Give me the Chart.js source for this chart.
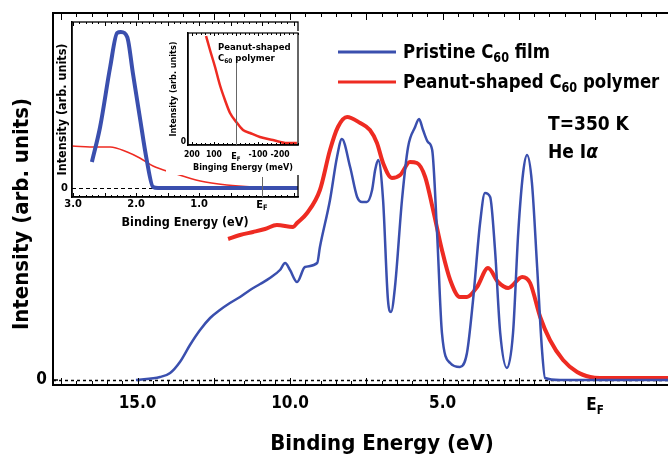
<!DOCTYPE html>
<html>
<head>
<meta charset="utf-8">
<script src="https://cdn.jsdelivr.net/npm/chart.js@4.4.1/dist/chart.umd.min.js"></script>
<style>
  body { margin: 0; background: #fff; }
  #wrap { position: relative; width: 668px; height: 458px; }
  canvas { position: absolute; }
</style>
</head>
<body>
<div id="wrap">
  <canvas id="main" width="668" height="458" style="left:0;top:0"></canvas>
  <canvas id="inset" width="248" height="213" style="left:54px;top:21px"></canvas>
  <canvas id="nested" width="133" height="144" style="left:166px;top:31px"></canvas>
</div>
<script>
// Data (binding energy in eV, intensity in arb. units)
const pristineEnergy = [15.05, 14.26, 13.93, 13.61, 13.28, 12.95, 12.62, 12.30, 11.97, 11.64, 11.31, 10.98, 10.66, 10.33, 10.16, 10.00, 9.77, 9.51, 9.11, 9.02, 8.69, 8.46, 8.30, 8.03, 7.80, 7.64, 7.48, 7.31, 7.21, 7.11, 6.95, 6.79, 6.69, 6.56, 6.33, 6.13, 5.90, 5.77, 5.64, 5.48, 5.34, 5.18, 5.02, 4.75, 4.43, 4.20, 4.00, 3.77, 3.61, 3.44, 3.28, 3.11, 2.89, 2.69, 2.52, 2.36, 2.23, 2.07, 1.90, 1.74, 1.64, 1.15, 0.0, -2.39];
const pristineIntensity = [0, 3, 7, 18, 35, 50, 62, 70, 77, 83, 90, 96, 102, 110, 117, 110, 98, 113, 117, 133, 180, 223, 241, 213, 183, 178, 178, 190, 210, 220, 180, 80, 68, 93, 180, 233, 253, 261, 250, 238, 230, 147, 47, 17, 13, 27, 80, 157, 187, 183, 130, 47, 12, 47, 147, 207, 225, 197, 113, 30, 2, 0, 0, 0];

const polymerEnergy = [12.03, 11.64, 11.21, 10.82, 10.43, 9.90, 9.77, 9.44, 9.02, 8.69, 8.43, 8.13, 7.70, 7.38, 7.15, 6.95, 6.66, 6.39, 6.07, 5.84, 5.57, 5.31, 5.02, 4.75, 4.43, 4.20, 3.87, 3.51, 3.18, 2.85, 2.39, 2.13, 1.80, 1.48, 1.05, 0.59, 0.16, -0.16, -2.39];
const polymerIntensity = [141, 145, 148, 151, 155, 153, 157, 167, 190, 230, 253, 263, 257, 250, 237, 217, 202, 205, 218, 217, 203, 170, 130, 100, 83, 83, 93, 112, 98, 92, 103, 97, 63, 40, 20, 8, 3, 2, 2];

// Inset: region near the Fermi level (eV)
const insetPristineEnergy = [2.70, 2.57, 2.41, 2.30, 2.24, 2.14, 2.05, 1.94, 1.83, 1.73, 1.65, -0.57];
const insetPristineIntensity = [26, 61, 121, 155, 156, 151, 115, 71, 28, 1, 0, 0];
const insetPolymerEnergy = [3.02, 2.62, 2.41, 2.14, 1.94, 1.73, 1.41, 0.98, 0.56, 0.14, -0.49, -0.57];
const insetPolymerIntensity = [42, 41, 41, 36, 30, 22, 15, 7, 3, 1, 0, 0];

// Nested inset (meV)
const nestedEnergy = [136, 118, 95, 73, 50, 27, -5, -32, -64, -109, -168, -232, -277];
const nestedIntensity = [106, 92, 75, 57, 42, 29, 19, 12, 9, 5, 2, -1, -1];

// Tick labels
const mainTickValues = [15, 10, 5, 0];
const mainTickLabels = ["15.0", "10.0", "5.0", "EF"];
const insetTickValues = [3, 2, 1, 0];
const insetTickLabels = ["3.0", "2.0", "1.0", "EF"];
const nestedTickValues = [200, 100, 0, -100, -200];
const nestedTickLabels = ["200", "100", "EF", "-100", "-200"];

const BLUE = "#3a4fae";
const RED = "#ee2b22";
const FONT = '"DejaVu Sans Condensed", "DejaVu Sans", sans-serif';

Chart.defaults.font.family = FONT;
Chart.defaults.font.weight = "bold";
Chart.defaults.color = "#000";

//Helper Functions
const toPoints = (xs, ys) => xs.map((x, i) => ({ x: x, y: ys[i] }));

// parts: [text, style] with style "n" normal, "s" subscript, "i" italic
const drawRich = (ctx, x, y, parts, size, align, sx) => {
  const fontOf = (st) =>
    `${st === "i" ? "italic " : ""}bold ${st === "s" ? size * 0.68 : size}px ${FONT}`;
  const scaleX = sx || 1;
  let w = 0;
  parts.forEach(([t, st]) => {
    ctx.font = fontOf(st);
    w += ctx.measureText(t).width;
  });
  ctx.save();
  ctx.translate(x, y);
  ctx.scale(scaleX, 1);
  ctx.fillStyle = "#000";
  ctx.textAlign = "left";
  ctx.textBaseline = "alphabetic";
  let cx = align === "center" ? -w / 2 : 0;
  parts.forEach(([t, st]) => {
    ctx.font = fontOf(st);
    ctx.fillText(t, cx, st === "s" ? size * 0.22 : 0);
    cx += ctx.measureText(t).width;
  });
  ctx.restore();
};

const drawFermiLabel = (chart, offsetY, size) => {
  const px = chart.scales.x.getPixelForValue(0);
  drawRich(chart.ctx, px, chart.chartArea.bottom + offsetY, [["E", "n"], ["F", "s"]], size, "center");
};

const inwardTicks = (chart, step, every, minor, major) => {
  const { ctx, chartArea: a } = chart;
  const x = chart.scales.x;
  const lo = Math.min(x.min, x.max);
  const hi = Math.max(x.min, x.max);
  ctx.save();
  ctx.strokeStyle = "#000";
  ctx.lineWidth = 1;
  ctx.beginPath();
  for (let k = Math.ceil(lo / step - 1e-9); k * step <= hi + 1e-9; k++) {
    const px = Math.round(x.getPixelForValue(k * step)) + 0.5;
    const len = Math.abs(k) % every === 0 ? major : minor;
    ctx.moveTo(px, a.bottom);
    ctx.lineTo(px, a.bottom - len);
    ctx.moveTo(px, a.top);
    ctx.lineTo(px, a.top + len);
  }
  ctx.stroke();
  ctx.restore();
};

const zeroLine = (chart, dash, width) => {
  const { ctx, chartArea: a } = chart;
  const py = Math.round(chart.scales.y.getPixelForValue(0)) + 0.5;
  ctx.save();
  ctx.strokeStyle = "#000";
  ctx.lineWidth = width;
  ctx.setLineDash(dash);
  ctx.beginPath();
  ctx.moveTo(a.left, py);
  ctx.lineTo(a.right, py);
  ctx.stroke();
  ctx.restore();
};

const frame = (chart, width) => {
  const { ctx, chartArea: a } = chart;
  ctx.save();
  ctx.strokeStyle = "#000";
  ctx.lineWidth = width;
  ctx.strokeRect(a.left, a.top, a.right - a.left, a.bottom - a.top);
  ctx.restore();
};

// white card behind the plot and its tick labels, title band stays see-through
const whiteBackground = {
  id: "whiteBackground",
  beforeDraw: (chart, args, opts) => {
    const h = opts.labelBand ? chart.chartArea.bottom + opts.labelBand : chart.height;
    chart.ctx.save();
    chart.ctx.fillStyle = "#fff";
    chart.ctx.fillRect(0, 0, chart.width, h);
    chart.ctx.restore();
  },
};

const noPadding = (s) => {
  s.paddingTop = 0;
  s.paddingBottom = 0;
  s.paddingLeft = 0;
  s.paddingRight = 0;
};

//Main chart decorations
const mainDecor = {
  id: "mainDecor",
  beforeDatasetsDraw: (chart) => zeroLine(chart, [3, 3], 1.5),
  afterDraw: (chart) => {
    const { ctx, chartArea: a } = chart;
    // top border
    ctx.save();
    ctx.strokeStyle = "#000";
    ctx.lineWidth = 2;
    ctx.beginPath();
    ctx.moveTo(a.left, a.top);
    ctx.lineTo(a.right, a.top);
    ctx.stroke();
    // zero tick on the left axis
    const py = chart.scales.y.getPixelForValue(0);
    ctx.lineWidth = 1.5;
    ctx.beginPath();
    ctx.moveTo(a.left, py);
    ctx.lineTo(a.left + 5, py);
    ctx.stroke();
    ctx.restore();
    inwardTicks(chart, 0.5, 5, 4, 7);
    drawFermiLabel(chart, 25, 17);

    // axis titles
    drawRich(ctx, 382, 450, [["Binding Energy (eV)", "n"]], 22, "center");
    ctx.save();
    ctx.translate(28, 214);
    ctx.rotate(-Math.PI / 2);
    drawRich(ctx, 0, 0, [["Intensity (arb. units)", "n"]], 22, "center");
    ctx.restore();

    // legend
    const legend = [
      { color: BLUE, y: 52, parts: [["Pristine C", "n"], ["60", "s"], [" film", "n"]] },
      { color: RED, y: 82, parts: [["Peanut-shaped C", "n"], ["60", "s"], [" polymer", "n"]] },
    ];
    legend.forEach((item) => {
      ctx.save();
      ctx.strokeStyle = item.color;
      ctx.lineWidth = 3;
      ctx.beginPath();
      ctx.moveTo(338, item.y);
      ctx.lineTo(396, item.y);
      ctx.stroke();
      ctx.restore();
      drawRich(ctx, 403, item.y + 6, item.parts, 20, "left", 0.92);
    });

    drawRich(ctx, 548, 130, [["T=350 K", "n"]], 20, "left", 0.95);
    drawRich(ctx, 548, 158, [["He I", "n"], ["\u03b1", "i"]], 20, "left", 0.95);
  },
};

const insetDecor = {
  id: "insetDecor",
  beforeDatasetsDraw: (chart) => zeroLine(chart, [4, 3], 1),
  afterDraw: (chart) => {
    const { ctx, chartArea: a } = chart;
    frame(chart, 1.3);
    inwardTicks(chart, 0.1, 5, 2, 4);
    // short Fermi level marker
    const px = Math.round(chart.scales.x.getPixelForValue(0)) + 0.5;
    ctx.save();
    ctx.strokeStyle = "#666";
    ctx.lineWidth = 1;
    ctx.beginPath();
    ctx.moveTo(px, a.bottom);
    ctx.lineTo(px, a.bottom - 20);
    ctx.stroke();
    ctx.restore();
    drawFermiLabel(chart, 11, 11);
  },
};

const nestedDecor = {
  id: "nestedDecor",
  afterDraw: (chart) => {
    const { ctx, chartArea: a } = chart;
    frame(chart, 1.2);
    inwardTicks(chart, 20, 5, 2, 3);
    const px = Math.round(chart.scales.x.getPixelForValue(0)) + 0.5;
    ctx.save();
    ctx.strokeStyle = "#666";
    ctx.lineWidth = 1;
    ctx.beginPath();
    ctx.moveTo(px, a.top + 30);
    ctx.lineTo(px, a.bottom);
    ctx.stroke();
    ctx.restore();
    drawFermiLabel(chart, 14, 9);
    drawRich(ctx, 52, 19, [["Peanut-shaped", "n"]], 9.5, "left");
    drawRich(ctx, 52, 30, [["C", "n"], ["60", "s"], [" polymer", "n"]], 9.5, "left");
  },
};

const commonOptions = {
  responsive: false,
  animation: false,
  devicePixelRatio: 1,
  elements: { point: { radius: 0 } },
};

const xAxis = (min, max, height, values, labels, size, padding, title, titleSize, titlePad) => ({
  type: "linear",
  reverse: true,
  min: min,
  max: max,
  afterFit: (s) => {
    s.height = height;
    noPadding(s);
  },
  afterBuildTicks: (s) => {
    s.ticks = values.map((v) => ({ value: v }));
  },
  grid: { display: false, drawTicks: false },
  border: { display: true, color: "#000", width: 1.5 },
  ticks: {
    autoSkip: false,
    maxRotation: 0,
    padding: padding,
    font: { size: size, weight: "bold" },
    callback: (v, i) => (labels[i] === "EF" ? "" : labels[i]),
  },
  title: {
    display: !!title,
    text: title,
    font: { size: titleSize, weight: "bold" },
    padding: { top: 0, bottom: titlePad },
  },
});

const yAxis = (min, max, width, size, padding, title, titleSize, titlePad) => ({
  min: min,
  max: max,
  afterFit: (s) => {
    s.width = width;
    noPadding(s);
  },
  afterBuildTicks: (s) => {
    s.ticks = [{ value: 0 }];
  },
  grid: { display: false, drawTicks: false },
  border: { display: true, color: "#000", width: 1.5 },
  ticks: { padding: padding, font: { size: size, weight: "bold" }, callback: () => "0" },
  title: {
    display: !!title,
    text: title,
    font: { size: titleSize, weight: "bold" },
    padding: { top: titlePad, bottom: 0 },
  },
});

//Charts
const mainChart = () => {
  const canvas = document.getElementById("main");
  const x = xAxis(-2.39, 17.77, 73, mainTickValues, mainTickLabels, 17, 8, "", 0, 0);
  x.border.width = 2;
  const y = yAxis(-5, 367, 53, 17, 6, "", 0, 0);
  y.border.width = 2;
  new Chart(canvas, {
    type: "line",
    data: {
      datasets: [
        {
          label: "Pristine C60 film",
          data: toPoints(pristineEnergy, pristineIntensity),
          borderColor: BLUE,
          borderWidth: 2.5,
          cubicInterpolationMode: "monotone",
        },
        {
          label: "Peanut-shaped C60 polymer",
          data: toPoints(polymerEnergy, polymerIntensity),
          borderColor: RED,
          borderWidth: 4,
          cubicInterpolationMode: "monotone",
        },
      ],
    },
    options: Object.assign({}, commonOptions, {
      layout: { padding: { top: 13, right: 0, left: 0, bottom: 0 } },
      plugins: { legend: { display: false }, tooltip: { enabled: false } },
      scales: { x: x, y: y },
    }),
    plugins: [mainDecor],
  });
};

const insetChart = () => {
  const canvas = document.getElementById("inset");
  new Chart(canvas, {
    type: "line",
    data: {
      datasets: [
        {
          label: "Pristine C60 film",
          data: toPoints(insetPristineEnergy, insetPristineIntensity),
          borderColor: BLUE,
          borderWidth: 4,
          cubicInterpolationMode: "monotone",
        },
        {
          label: "Peanut-shaped C60 polymer",
          data: toPoints(insetPolymerEnergy, insetPolymerIntensity),
          borderColor: RED,
          borderWidth: 1.5,
          cubicInterpolationMode: "monotone",
        },
      ],
    },
    options: Object.assign({}, commonOptions, {
      layout: { padding: { top: 1, right: 4, left: 0, bottom: 0 } },
      plugins: {
        legend: { display: false },
        tooltip: { enabled: false },
        whiteBackground: { labelBand: 15 },
      },
      scales: {
        x: xAxis(-0.571, 3.016, 37, insetTickValues, insetTickLabels, 11, 1, "Binding Energy (eV)", 12.5, 4),
        y: yAxis(-9, 166, 18, 11, 4, "Intensity (arb. units)", 12.5, 1),
      },
    }),
    plugins: [whiteBackground, insetDecor],
  });
};

const nestedChart = () => {
  const canvas = document.getElementById("nested");
  new Chart(canvas, {
    type: "line",
    data: {
      datasets: [
        {
          label: "Peanut-shaped C60 polymer",
          data: toPoints(nestedEnergy, nestedIntensity),
          borderColor: RED,
          borderWidth: 2.5,
          cubicInterpolationMode: "monotone",
        },
      ],
    },
    options: Object.assign({}, commonOptions, {
      layout: { padding: { top: 2, right: 1, left: 0, bottom: 0 } },
      plugins: {
        legend: { display: false },
        tooltip: { enabled: false },
        whiteBackground: { labelBand: 0 },
      },
      scales: {
        x: xAxis(-282, 218, 30, nestedTickValues, nestedTickLabels, 8.5, 5, "Binging Energy (meV)", 9, 2),
        y: yAxis(-3, 109, 22, 8.5, 2, "Intensity (arb. units)", 9, 2),
      },
    }),
    plugins: [whiteBackground, nestedDecor],
  });
};

mainChart();
insetChart();
nestedChart();
</script>
</body>
</html>
